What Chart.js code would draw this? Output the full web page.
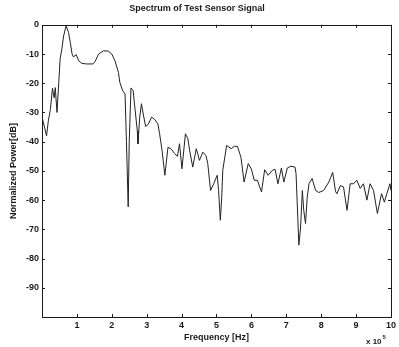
<!DOCTYPE html>
<html>
<head>
<meta charset="utf-8">
<script src="https://cdn.jsdelivr.net/npm/chart.js@4/dist/chart.umd.min.js"></script>
<style>
html,body{margin:0;padding:0;background:#fff;}
#wrap{width:399px;height:347px;position:relative;}
</style>
</head>
<body>
<div id="wrap"><canvas id="c" width="399" height="347"></canvas></div>
<script>
const freq = [0.01,0.07,0.13,0.18,0.24,0.30,0.35,0.38,0.43,0.48,0.52,0.57,0.62,0.69,0.76,0.81,0.86,0.90,0.98,1.05,1.14,1.28,1.46,1.52,1.62,1.76,1.90,2.00,2.09,2.19,2.23,2.31,2.38,2.42,2.47,2.50,2.55,2.61,2.66,2.73,2.75,2.80,2.85,2.90,2.97,3.04,3.14,3.23,3.32,3.37,3.44,3.52,3.61,3.71,3.80,3.88,3.94,4.01,4.11,4.18,4.23,4.32,4.42,4.46,4.51,4.61,4.70,4.75,4.83,4.92,5.02,5.06,5.11,5.15,5.18,5.29,5.42,5.51,5.60,5.70,5.79,5.91,6.00,6.08,6.17,6.29,6.38,6.48,6.60,6.68,6.76,6.86,6.93,7.03,7.13,7.25,7.28,7.36,7.41,7.46,7.50,7.55,7.60,7.65,7.74,7.84,7.93,8.07,8.22,8.33,8.41,8.45,8.55,8.64,8.74,8.83,8.93,9.02,9.12,9.21,9.31,9.40,9.50,9.61,9.69,9.73,9.81,9.88,9.97,10.0];
const power = [-32,-35,-38,-33,-29,-21.7,-25,-21.5,-30,-19.7,-11.6,-8.2,-3.8,-0.3,-2.6,-6,-9.9,-11,-10.2,-12.3,-13.2,-13.4,-13.4,-12.6,-10,-8.9,-9,-10,-12.3,-16.3,-19.7,-22.5,-23.7,-40,-62.3,-40,-21.6,-22.5,-28.2,-36.2,-40.7,-31.6,-27,-30.5,-34.8,-34.1,-31.6,-32.4,-33.9,-37.3,-43,-51.5,-41.9,-42.6,-44.1,-45,-40.7,-49.3,-37.3,-39,-43,-48.7,-42.4,-44,-46.4,-43.6,-44.8,-47.5,-56.7,-54.4,-51.5,-56.7,-66.9,-59,-49.8,-41.3,-42.4,-41.6,-41.6,-45.3,-53.8,-47.5,-49.4,-53.2,-53.2,-57.2,-49.6,-51.5,-49.8,-49.5,-54.4,-49,-53.8,-49,-48.4,-48.7,-51,-75.4,-69.2,-56.7,-63.5,-68,-59,-54.4,-52.6,-56.7,-57.4,-56.7,-53.8,-50.5,-57,-57.8,-55,-55.5,-63.5,-54.4,-54.4,-53.2,-56,-54.4,-60,-54.4,-56.7,-64.6,-60,-57.8,-60.7,-57.8,-54.4,-56.7];
const xTicks = [1,2,3,4,5,6,7,8,9,10];
const yTicks = [0,-10,-20,-30,-40,-50,-60,-70,-80,-90];
const titleText = 'Spectrum of Test Sensor Signal';
const xTitle = 'Frequency [Hz]';
const yTitle = 'Normalized Power[dB]';

const ink = '#1a1a1a';
const fnt = {family:'Liberation Sans, Arial, sans-serif', size:9, weight:'bold'};

const boxPlugin = {
  id:'box',
  afterDraw(chart){
    const {ctx, chartArea:a, scales:{x,y}} = chart;
    ctx.save();
    ctx.strokeStyle = ink;
    ctx.lineWidth = 1;
    ctx.strokeRect(Math.round(a.left)+0.5, Math.round(a.top)+0.5, Math.round(a.right-a.left), Math.round(a.bottom-a.top));
    ctx.beginPath();
    xTicks.forEach(v=>{
      const px = Math.round(x.getPixelForValue(v))+0.5;
      ctx.moveTo(px,a.bottom); ctx.lineTo(px,a.bottom-3);
      ctx.moveTo(px,a.top); ctx.lineTo(px,a.top+3);
    });
    yTicks.forEach(v=>{
      const py = Math.round(y.getPixelForValue(v))+0.5;
      ctx.moveTo(a.left,py); ctx.lineTo(a.left+3,py);
      ctx.moveTo(a.right,py); ctx.lineTo(a.right-3,py);
    });
    ctx.stroke();
    // exponent label
    ctx.fillStyle = ink;
    ctx.font = 'bold 8px Liberation Sans, Arial, sans-serif';
    ctx.textBaseline = 'alphabetic';
    ctx.textAlign = 'left';
    const ex = a.right - 25, ey = a.bottom + 27;
    ctx.fillText('x 10', ex, ey);
    const w = ctx.measureText('x 10').width;
    ctx.font = 'bold 6px Liberation Sans, Arial, sans-serif';
    ctx.fillText('5', ex + w + 1, ey - 5);
    ctx.restore();
  }
};

new Chart(document.getElementById('c'), {
  type:'line',
  data:{datasets:[{
    data: freq.map((f,i)=>({x:f, y:power[i]})),
    borderColor:'#222',
    borderWidth:1,
    pointRadius:0,
    tension:0,
    fill:false
  }]},
  options:{
    responsive:false,
    animation:false,
    layout:{padding:{left:0,right:5,top:0,bottom:0}},
    plugins:{
      legend:{display:false},
      tooltip:{enabled:false},
      title:{display:true,text:titleText,color:ink,font:{family:'Liberation Sans, Arial, sans-serif',size:9,weight:'bold'},padding:{top:3,bottom:11}}
    },
    scales:{
      x:{
        type:'linear', min:0, max:10,
        afterFit(s){ s.height = 30; },
        afterBuildTicks(s){ s.ticks = [0].concat(xTicks).map(v=>({value:v})); },
        ticks:{callback:v=>v===0?'':String(v), color:ink, font:fnt, padding:3, maxRotation:0, autoSkip:false},
        grid:{display:false, drawTicks:false},
        border:{display:false},
        title:{display:true, text:xTitle, color:ink, font:fnt, padding:{top:1,bottom:4}}
      },
      y:{
        type:'linear', min:-100, max:0,
        afterFit(s){ s.width = 42; },
        afterBuildTicks(s){ s.ticks = [-100].concat(yTicks.slice().reverse()).map(v=>({value:v})); },
        ticks:{callback:v=>v===-100?'':String(v), color:ink, font:fnt, padding:3, autoSkip:false},
        grid:{display:false, drawTicks:false},
        border:{display:false},
        title:{display:true, text:yTitle, color:ink, font:fnt, padding:{top:8,bottom:2}}
      }
    }
  },
  plugins:[boxPlugin]
});
</script>
</body>
</html>
